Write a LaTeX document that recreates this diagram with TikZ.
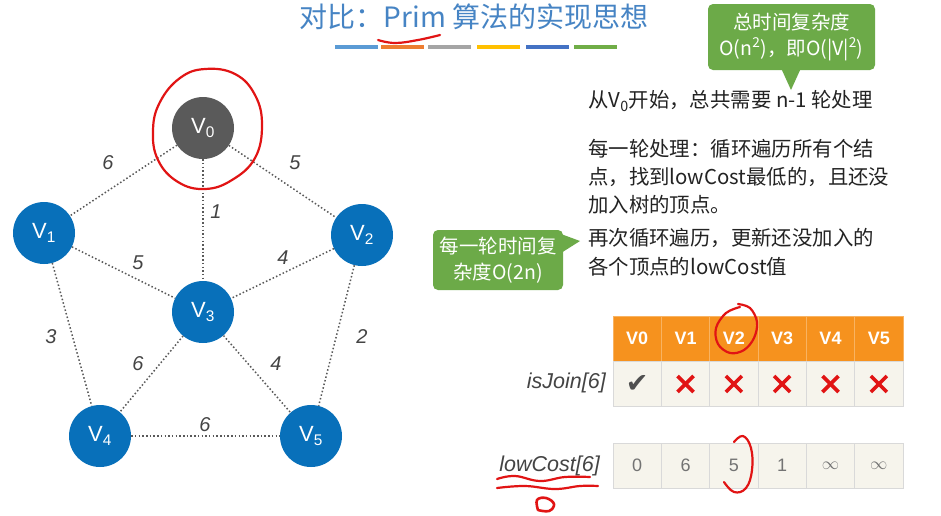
\documentclass[tikz,border=0pt]{standalone}
\usepackage{fontspec}
\setmainfont{Liberation Sans}
\newfontfamily\cjk{Noto Sans CJK SC}
\newfontfamily\djv{DejaVu Sans}
\definecolor{vblue}{RGB}{8,112,186}
\definecolor{vgray}{RGB}{90,90,90}
\definecolor{cgreen}{RGB}{108,170,72}
\definecolor{torange}{RGB}{246,146,30}
\definecolor{tbg}{RGB}{246,244,236}
\definecolor{titleblue}{RGB}{70,132,196}
\definecolor{ink}{RGB}{35,35,35}
\definecolor{redpen}{RGB}{225,20,20}
\definecolor{bA}{RGB}{91,155,213}
\definecolor{bB}{RGB}{237,125,49}
\definecolor{bC}{RGB}{165,165,165}
\definecolor{bD}{RGB}{255,192,0}
\definecolor{bE}{RGB}{68,114,196}
\definecolor{bF}{RGB}{112,173,71}
\tikzset{
  vert/.style={circle, fill=vblue, minimum size=62pt, inner sep=0pt, text=white, font=\fontsize{22}{22}\selectfont},
  edgeline/.style={draw=gray!70!black, line width=1.5pt, dash pattern=on 1.5pt off 2.2pt},
  wlabel/.style={font=\fontsize{20}{20}\selectfont\itshape, text=ink!85},
  calloutbox/.style={fill=cgreen, rounded corners=5pt, text=white, align=center, font=\cjk\fontsize{19.5}{26}\selectfont, inner sep=0pt},
  bodytext/.style={anchor=west, text=ink, font=\cjk\fontsize{20.4}{24}\selectfont, inner sep=0pt},
  hcell/.style={fill=torange, draw=torange!70!white, line width=0.8pt, minimum width=48.33pt, minimum height=45pt, inner sep=0pt, text=white, font=\fontsize{18}{18}\selectfont\bfseries},
  bcell/.style={fill=tbg, draw=gray!30, line width=0.8pt, minimum width=48.33pt, minimum height=45pt, inner sep=0pt, text=gray!90!black, font=\fontsize{18}{18}\selectfont},
  rowlabel/.style={anchor=east, text=ink!85, font=\fontsize{21.5}{21.5}\selectfont\itshape, inner sep=0pt},
  pen/.style={draw=redpen, line width=2.2pt, line cap=round, line join=round},
  bar/.style={minimum width=43pt, minimum height=4pt, inner sep=0pt}
}
\begin{document}
\begin{tikzpicture}[x=1pt, y=-1pt]
\useasboundingbox (0,0) rectangle (941,515);
\fill[white] (0,0) rectangle (941,515);

% title
\node[text=titleblue, font=\cjk\fontsize{28}{28}\selectfont, inner sep=0pt] (title) at (474,17) {对比：Prim 算法的实现思想};
\node[bar, fill=bA] (b1) at (356,47) {};
\node[bar, fill=bB] (b2) at (402,47) {};
\node[bar, fill=bC] (b3) at (449,47) {};
\node[bar, fill=bD] (b4) at (498,47) {};
\node[bar, fill=bE] (b5) at (547,47) {};
\node[bar, fill=bF] (b6) at (595,47) {};

% graph
\node[vert, fill=vgray] (v0) at (203,128) {V\textsubscript{0}};
\node[vert] (v1) at (44,233) {V\textsubscript{1}};
\node[vert] (v2) at (362,235) {V\textsubscript{2}};
\node[vert] (v3) at (203,312) {V\textsubscript{3}};
\node[vert] (v4) at (100,436) {V\textsubscript{4}};
\node[vert] (v5) at (311,436) {V\textsubscript{5}};

\draw[edgeline] (v0) -- (v1);
\draw[edgeline] (v0) -- (v2);
\draw[edgeline] (v0) -- (v3);
\draw[edgeline] (v1) -- (v3);
\draw[edgeline] (v2) -- (v3);
\draw[edgeline] (v1) -- (v4);
\draw[edgeline] (v2) -- (v5);
\draw[edgeline] (v3) -- (v4);
\draw[edgeline] (v3) -- (v5);
\draw[edgeline] (v4) -- (v5);

\node[wlabel] (w01) at (108,163) {6};
\node[wlabel] (w02) at (295,163) {5};
\node[wlabel] (w03) at (216,212) {1};
\node[wlabel] (w13) at (138,263) {5};
\node[wlabel] (w23) at (283,258) {4};
\node[wlabel] (w14) at (51,337) {3};
\node[wlabel] (w25) at (362,337) {2};
\node[wlabel] (w34) at (138,364) {6};
\node[wlabel] (w35) at (276,364) {4};
\node[wlabel] (w45) at (205,425) {6};

% callouts
\node[calloutbox, minimum width=167pt, minimum height=66pt] (c1) at (791.5,37) {总时间复杂度\\O(n\textsuperscript{2})，即O(|V|\textsuperscript{2})};
\fill[cgreen] (781,68) -- (801,68) -- (791,90) -- cycle;
\node[calloutbox, minimum width=130pt, minimum height=60pt] (c2) at (498,260) {每一轮时间复\\杂度O(2n)};
\fill[cgreen] (561,234) -- (561,253) -- (580,241) -- cycle;

% right text
\node[bodytext] (t1) at (588,101) {从V\textsubscript{0}开始，总共需要 n-1 轮处理};
\node[bodytext] (t2) at (588,149) {每一轮处理：循环遍历所有个结};
\node[bodytext] (t3) at (588,177) {点，找到lowCost最低的，且还没};
\node[bodytext] (t4) at (588,205) {加入树的顶点。};
\node[bodytext] (t5) at (588,238) {再次循环遍历，更新还没加入的};
\node[bodytext] (t6) at (588,267) {各个顶点的lowCost值};

% tables
\foreach \i in {0,...,5} {
  \node[hcell] (h\i) at ({637.17+48.33*\i},338.5) {V\i};
  \node[bcell] (j\i) at ({637.17+48.33*\i},384) {};
}
\node[text=ink!80, font=\djv\fontsize{27}{27}\selectfont] (ck) at (j0) {✔};
\foreach \i in {1,...,5} {
  \draw[redpen, line width=3.6pt] ([shift={(-8,-8)}]j\i.center) -- ([shift={(8,8)}]j\i.center);
  \draw[redpen, line width=3.6pt] ([shift={(-8,8)}]j\i.center) -- ([shift={(8,-8)}]j\i.center);
}
\node[bcell] (c0) at (637.17,465.5) {0};
\node[bcell] (c1c) at (685.5,465.5) {6};
\node[bcell] (c2c) at (733.83,465.5) {5};
\node[bcell] (c3c) at (782.17,465.5) {1};
\node[bcell] (c4c) at (830.5,465.5) {$\infty$};
\node[bcell] (c5c) at (878.83,465.5) {$\infty$};

\node[rowlabel] (ij) at (606,383) {isJoin[6]};
\node[rowlabel] (lc) at (600,466) {lowCost[6]};

% red pen marks
\draw[pen] plot[smooth cycle, tension=0.7] coordinates {(160,102) (180,78) (205,69) (235,74) (255,95) (262,125) (255,158) (232,180) (205,189) (178,182) (158,160) (153,130)};
\draw[pen] plot[smooth, tension=0.7] coordinates {(378,40) (395,43) (418,40) (440,35)};
\draw[pen] plot[smooth, tension=0.6] coordinates {(740,307) (726,313) (716,328) (718,344) (730,353) (744,350) (754,338) (757,322) (750,308) (738,304)};
\draw[pen] plot[smooth, tension=0.7] coordinates {(734,442) (743,436) (751,448) (752,470) (746,488) (734,492) (724,482)};
\draw[pen] plot[smooth, tension=0.7] coordinates {(497,479) (515,476) (540,481) (565,477) (590,477)};
\draw[pen] plot[smooth, tension=0.7] coordinates {(497,488) (525,486) (555,489) (580,486) (598,486)};
\draw[pen, line width=2.6pt] plot[smooth, tension=0.7] coordinates {(538,510) (537,500) (546,498) (554,504) (549,511) (538,510)};
\end{tikzpicture}
\end{document}
